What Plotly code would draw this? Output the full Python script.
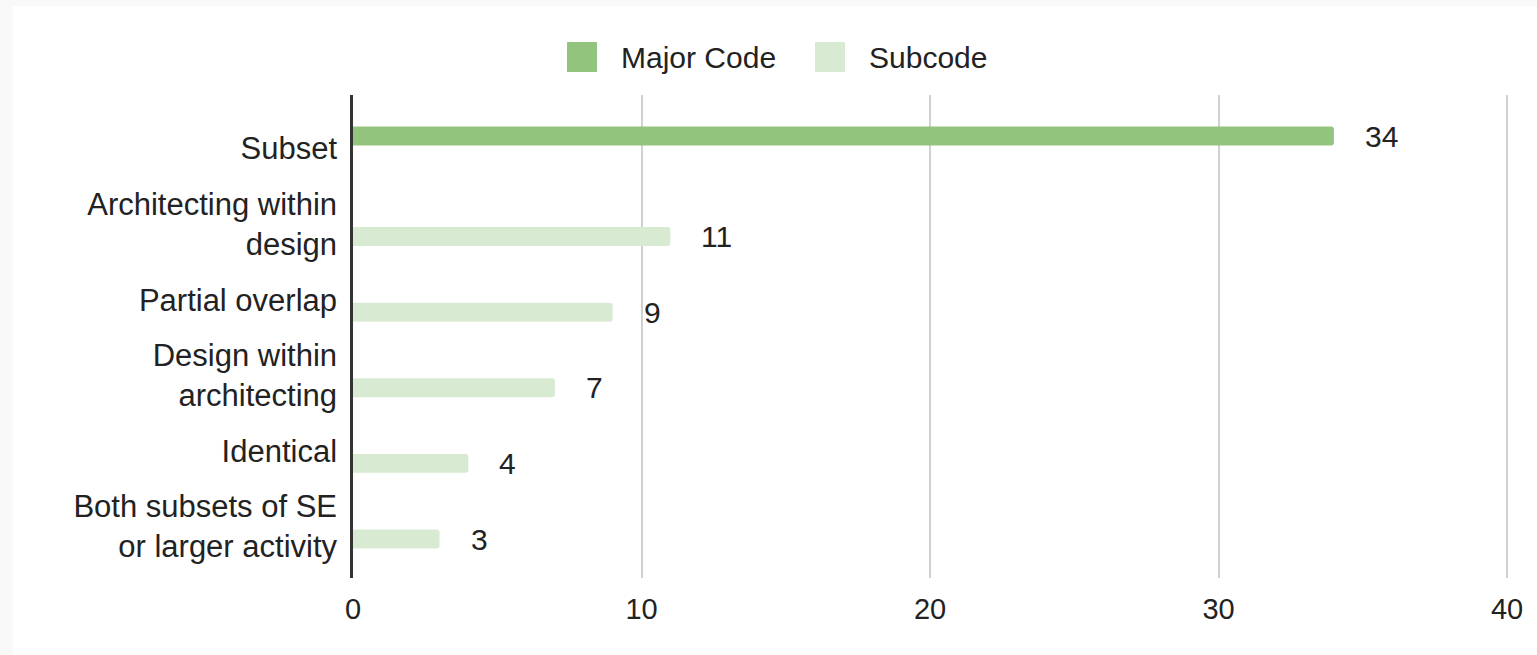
import plotly.graph_objects as go

# Category labels (top to bottom) and counts per series
categories = [
    "Subset",
    "Architecting within<br>design",
    "Partial overlap",
    "Design within<br>architecting",
    "Identical",
    "Both subsets of SE<br>or larger activity",
]
major_code = [34, None, None, None, None, None]
subcode = [None, 11, 9, 7, 4, 3]

series_names = ["Major Code", "Subcode"]
series_colors = ["#93c47d", "#d9ead3"]
x_ticks = [0, 10, 20, 30, 40]

W, H = 1537, 655
M_L, M_R, M_T, M_B = 353, 28, 95, 77
PLOT_W = W - M_L - M_R
PLOT_H = H - M_T - M_B
X_MAX = 40 * PLOT_W / (PLOT_W - 2)  # keeps the 40 gridline just inside the frame

FONT = "Liberation Sans, Arial, sans-serif"
TEXT_COLOR = "#222222"


def px_x(px):
    """Pixel column -> paper x."""
    return (px - M_L) / PLOT_W


def px_y(py):
    """Pixel row -> paper y."""
    return (H - M_B - py) / PLOT_H


fig = go.Figure()

for name, color, vals in zip(series_names, series_colors, [major_code, subcode]):
    fig.add_trace(go.Bar(
        name=name,
        y=categories,
        x=vals,
        orientation="h",
        marker=dict(color=color, line=dict(width=0)),
        showlegend=False,
        hoverinfo="x+y",
    ))

# Value labels beside each bar
annotations = []
for vals, shift in [(major_code, 12.5), (subcode, -12.5)]:
    for cat, v in zip(categories, vals):
        if v is None:
            continue
        annotations.append(dict(
            x=v, y=cat, xref="x", yref="y",
            text=str(v), showarrow=False,
            xanchor="left", yanchor="middle",
            xshift=29, yshift=shift,
            font=dict(family=FONT, size=30, color=TEXT_COLOR),
        ))

# Legend row across the top
shapes = [
    # white card over the light grey page
    dict(type="rect", xref="paper", yref="paper",
         x0=px_x(13), x1=px_x(W + 20), y0=px_y(H + 20), y1=px_y(6),
         fillcolor="white", line=dict(width=0), layer="below"),
]
legend_items = [(567, 619), (815, 867)]
for (sx, tx), name, color in zip(legend_items, series_names, series_colors):
    shapes.append(dict(
        type="rect", xref="paper", yref="paper",
        x0=px_x(sx), x1=px_x(sx + 30), y0=px_y(72), y1=px_y(42),
        fillcolor=color, line=dict(width=0), layer="above",
    ))
    annotations.append(dict(
        x=px_x(tx), y=px_y(57), xref="paper", yref="paper",
        text=name, showarrow=False, xanchor="left", yanchor="middle",
        font=dict(family=FONT, size=30, color=TEXT_COLOR),
    ))

spacing_px = 75.6
first_center_px = 148.5
top = -(first_center_px - M_T) / spacing_px
bottom = top + PLOT_H / spacing_px

fig.update_layout(
    width=W, height=H,
    margin=dict(l=M_L, r=M_R, t=M_T, b=M_B, pad=0),
    paper_bgcolor="#f9f9f9",
    plot_bgcolor="white",
    barmode="group",
    bargap=0.34,
    bargroupgap=0.24,
    barcornerradius=3,
    showlegend=False,
    font=dict(family=FONT, size=30, color=TEXT_COLOR),
    shapes=shapes,
    annotations=annotations,
    xaxis=dict(
        range=[0, X_MAX],
        tickvals=x_ticks,
        ticktext=[str(t) for t in x_ticks],
        showgrid=True, gridcolor="#d0d0d0", gridwidth=2,
        zeroline=False, showline=False,
        ticks="", ticklabelstandoff=11,
        tickfont=dict(family=FONT, size=29, color=TEXT_COLOR),
        fixedrange=True,
    ),
    yaxis=dict(
        type="category",
        categoryorder="array", categoryarray=categories,
        range=[bottom, top],
        showgrid=False, zeroline=False,
        showline=True, linecolor="#333333", linewidth=2.5,
        ticks="", ticklabelstandoff=7,
        tickfont=dict(family=FONT, size=31, color=TEXT_COLOR),
        fixedrange=True,
    ),
)

fig.write_html("out.html", config={"displayModeBar": False})
